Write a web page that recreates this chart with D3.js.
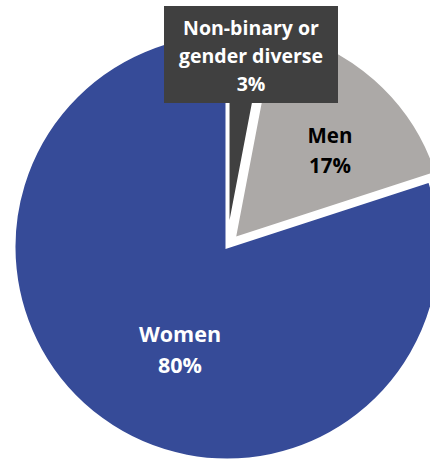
<!DOCTYPE html>
<html>
<head>
<meta charset="utf-8">
<script src="https://cdn.jsdelivr.net/npm/d3@7"></script>
<style>
  html, body { margin: 0; padding: 0; background: #fff; }
  svg { display: block; }
  text { font-family: "Open Sans", "Noto Sans", sans-serif; font-weight: 700; }
</style>
</head>
<body>
<svg id="chart" width="430" height="462"></svg>
<script>
// Gender breakdown, in pie order (clockwise from 12 o'clock)
const categories = ["Non-binary or gender diverse", "Men", "Women"];
const shares = [3, 17, 80];
const labelLines = [["Non-binary or", "gender diverse"], ["Men"], ["Women"]];
const sliceColors = ["#404040", "#aca9a7", "#364b98"];
const textColors = ["#ffffff", "#000000", "#ffffff"];

const data = categories.map((c, i) => ({
  name: c, value: shares[i], lines: labelLines[i],
  fill: sliceColors[i], text: textColors[i]
}));

const svg = d3.select("#chart");
const cx = 227, cy = 247, radius = 213;
const explode = [11, 11, 0];

const pie = d3.pie().sort(null).value(d => d.value);
const arc = d3.arc().innerRadius(0).outerRadius(radius);
const arcs = pie(data);

const g = svg.append("g").attr("transform", `translate(${cx},${cy})`);

// Slices, with the two smaller ones pulled out a little
g.selectAll("path.slice")
  .data(arcs)
  .join("path")
  .attr("class", "slice")
  .attr("d", arc)
  .attr("fill", d => d.data.fill)
  .attr("stroke", "#fff")
  .attr("stroke-width", 3)
  .attr("stroke-linejoin", "miter")
  .attr("transform", (d, i) => {
    const a = (d.startAngle + d.endAngle) / 2;
    return `translate(${Math.sin(a) * explode[i]},${-Math.cos(a) * explode[i]})`;
  });

// Data label placement (relative to the pie centre)
const labelPos = [
  { x: 24, y: -212, size: 19.5, lh: 28, box: { x: -63, y: -241, w: 174, h: 97 } },
  { x: 103, y: -104, size: 20.5, lh: 30 },
  { x: -47, y: 95, size: 21.5, lh: 31 }
];

arcs.forEach((d, i) => {
  const p = labelPos[i];
  if (p.box) {
    g.append("rect")
      .attr("x", p.box.x).attr("y", p.box.y)
      .attr("width", p.box.w).attr("height", p.box.h)
      .attr("fill", "#404040");
  }
  const lines = d.data.lines.concat([d.data.value + "%"]);
  const t = g.append("text")
    .attr("text-anchor", "middle")
    .attr("fill", d.data.text)
    .style("font-size", p.size + "px");
  lines.forEach((ln, k) => {
    t.append("tspan")
      .attr("x", p.x)
      .attr("y", p.y + k * p.lh)
      .text(ln);
  });
});
</script>
</body>
</html>
